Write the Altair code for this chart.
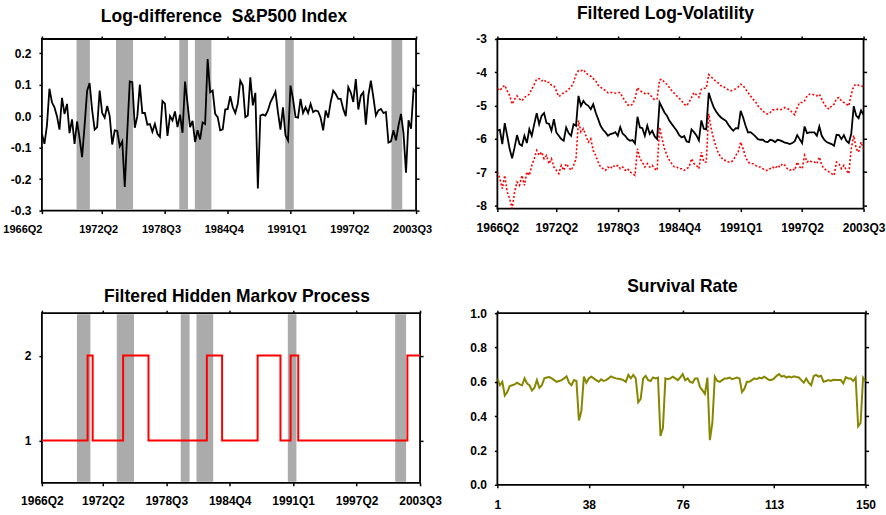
import altair as alt
import pandas as pd

# ---------------- data ----------------
quarters = list(range(1, 151))
date_ticks = [1, 25, 50, 75, 100, 125, 150]
date_labels = ["1966Q2", "1972Q2", "1978Q3", "1984Q4", "1991Q1", "1997Q2", "2003Q3"]
index_ticks = [1, 38, 76, 113, 150]

sp500_logdiff = [
    -0.056, -0.088, -0.030, 0.087, 0.044, 0.028, 0.000, -0.043, 0.058, 0.007,
    0.039, -0.054, -0.010, -0.088, -0.017, -0.070, -0.130, -0.030, 0.081, 0.105,
    0.020, -0.043, -0.035, 0.081, 0.010, -0.005, 0.032, 0.000, -0.090, -0.045,
    -0.047, -0.096, -0.080, -0.225, -0.050, 0.110, 0.108, -0.037, 0.000, 0.100,
    0.010, 0.010, -0.027, -0.025, -0.050, -0.025, -0.056, -0.066, 0.048, 0.040,
    -0.063, 0.000, -0.014, 0.015, -0.035, 0.005, -0.053, 0.110, 0.040, -0.035,
    -0.015, -0.082, -0.045, -0.074, -0.020, -0.025, 0.181, 0.076, 0.081, 0.007,
    -0.003, -0.045, -0.042, 0.021, 0.023, 0.063, 0.028, 0.010, 0.039, 0.113,
    0.097, -0.003, 0.002, 0.123, 0.034, 0.074, -0.230, 0.002, 0.005, 0.002,
    0.018, 0.044, 0.060, 0.078, 0.013, -0.043, 0.028, -0.061, -0.077, 0.097,
    0.055, -0.003, -0.005, 0.055, 0.010, 0.028, 0.010, 0.039, 0.013, 0.018,
    0.015, -0.005, -0.045, 0.018, -0.005, 0.045, 0.081, 0.070, 0.055, 0.055,
    0.023, 0.000, 0.092, 0.075, 0.045, 0.118, 0.021, 0.065, 0.076, -0.027,
    0.065, 0.113, 0.060, 0.002, 0.018, 0.023, 0.010, 0.013, -0.084, -0.080,
    -0.045, -0.077, -0.030, 0.007, -0.055, -0.180, -0.013, -0.040, 0.085, 0.075,
]

logvol_filtered = [
    -5.76, -5.73, -6.16, -5.53, -5.91, -6.31, -6.59, -6.26, -5.89, -6.16,
    -6.21, -5.91, -6.13, -5.71, -5.91, -5.56, -5.23, -5.56, -5.31, -5.23,
    -5.53, -5.55, -5.76, -5.41, -5.81, -5.91, -6.01, -6.06, -5.66, -5.83,
    -5.91, -5.56, -5.61, -4.71, -5.01, -4.86, -4.96, -5.01, -5.11, -4.96,
    -5.21, -5.41, -5.61, -5.73, -5.81, -5.91, -5.86, -5.84, -5.80, -5.91,
    -5.65, -5.85, -5.91, -6.01, -6.06, -6.04, -6.14, -5.34, -5.66, -5.68,
    -5.91, -5.61, -5.86, -5.76, -5.93, -6.01, -4.91, -5.06, -5.21, -5.31,
    -5.46, -5.56, -5.66, -5.76, -5.89, -5.96, -5.92, -6.08, -6.10, -5.72,
    -5.80, -5.90, -6.05, -5.45, -5.70, -5.72, -4.62, -4.85, -5.05, -5.18,
    -5.28, -5.36, -5.41, -5.46, -5.58, -5.68, -5.76, -5.68, -5.69, -5.16,
    -5.36, -5.61, -5.81, -5.80, -5.86, -5.93, -6.01, -6.03, -6.03, -6.09,
    -6.10, -6.03, -6.05, -6.10, -6.03, -6.05, -6.08, -6.12, -6.13, -6.16,
    -6.13, -6.07, -5.89, -6.01, -6.13, -5.63, -5.83, -5.81, -5.81, -5.81,
    -5.91, -5.63, -5.91, -6.03, -6.10, -6.13, -6.16, -6.21, -5.88, -5.89,
    -6.01, -5.89, -6.06, -6.13, -5.85, -5.02, -5.30, -5.38, -5.15, -5.28,
]

logvol_upper = [
    -4.49, -4.55, -4.46, -4.39, -4.56, -4.70, -4.96, -4.81, -4.71, -4.80,
    -4.86, -4.76, -4.71, -4.66, -4.51, -4.36, -4.21, -4.19, -4.26, -4.22,
    -4.31, -4.30, -4.39, -4.41, -4.56, -4.73, -4.68, -4.61, -4.58, -4.51,
    -4.45, -4.31, -4.07, -3.95, -3.96, -3.92, -4.02, -4.08, -4.12, -4.19,
    -4.26, -4.39, -4.45, -4.51, -4.55, -4.62, -4.60, -4.62, -4.63, -4.62,
    -4.61, -4.76, -4.86, -4.98, -5.01, -4.96, -4.80, -4.46, -4.55, -4.60,
    -4.64, -4.62, -4.66, -4.76, -4.83, -4.80, -4.23, -4.21, -4.31, -4.36,
    -4.46, -4.56, -4.63, -4.71, -4.78, -4.86, -4.96, -5.01, -4.90, -4.76,
    -4.61, -4.68, -4.75, -4.51, -4.48, -4.48, -4.07, -4.14, -4.21, -4.28,
    -4.33, -4.41, -4.43, -4.49, -4.53, -4.56, -4.53, -4.50, -4.44, -4.36,
    -4.40, -4.51, -4.61, -4.71, -4.81, -4.88, -5.01, -5.08, -5.16, -5.23,
    -5.26, -5.21, -5.13, -5.13, -5.11, -5.13, -5.11, -5.06, -5.09, -5.13,
    -5.21, -5.28, -5.06, -4.91, -4.91, -4.86, -4.71, -4.66, -4.66, -4.69,
    -4.71, -4.66, -4.81, -4.96, -5.06, -5.11, -5.01, -4.96, -4.79, -4.76,
    -4.86, -4.91, -4.96, -5.01, -4.66, -4.41, -4.36, -4.39, -4.41, -4.43,
]

logvol_lower = [
    -7.00, -7.20, -7.50, -7.10, -7.60, -7.80, -8.10, -7.60, -7.30, -7.40,
    -7.10, -7.40, -7.00, -7.10, -6.80, -6.60, -6.35, -6.50, -6.40, -6.60,
    -6.50, -6.75, -6.60, -6.85, -6.95, -7.05, -6.80, -6.95, -6.75, -6.85,
    -6.95, -6.80, -6.60, -5.45, -5.80, -5.70, -5.90, -6.10, -6.00, -6.35,
    -6.50, -6.70, -6.85, -6.90, -6.95, -6.85, -6.90, -6.80, -6.85, -6.80,
    -6.90, -6.85, -6.95, -6.90, -7.00, -7.05, -7.10, -6.30, -6.60, -6.70,
    -6.85, -6.75, -6.85, -6.80, -6.90, -6.95, -5.65, -6.00, -6.30, -6.50,
    -6.65, -6.75, -6.85, -6.85, -6.90, -6.90, -6.95, -6.90, -6.85, -6.60,
    -6.75, -6.80, -6.90, -6.40, -6.70, -6.70, -5.25, -5.70, -6.00, -6.25,
    -6.45, -6.55, -6.65, -6.65, -6.70, -6.70, -6.65, -6.50, -6.40, -6.10,
    -6.30, -6.55, -6.70, -6.75, -6.75, -6.80, -6.85, -6.85, -6.90, -6.95,
    -6.95, -6.90, -6.85, -6.90, -6.80, -6.85, -6.75, -6.80, -6.90, -6.95,
    -6.90, -6.95, -6.70, -6.85, -6.90, -6.50, -6.70, -6.65, -6.70, -6.70,
    -6.75, -6.55, -6.80, -6.90, -6.95, -7.00, -7.05, -7.10, -6.70, -6.75,
    -6.90, -6.80, -6.95, -7.05, -6.30, -5.90, -6.30, -6.40, -6.10, -6.30,
]

hidden_state = [
    1, 1, 1, 1, 1, 1, 1, 1, 1, 1,
    1, 1, 1, 1, 1, 1, 1, 1, 2, 2,
    1, 1, 1, 1, 1, 1, 1, 1, 1, 1,
    1, 1, 2, 2, 2, 2, 2, 2, 2, 2,
    2, 2, 1, 1, 1, 1, 1, 1, 1, 1,
    1, 1, 1, 1, 1, 1, 1, 1, 1, 1,
    1, 1, 1, 1, 1, 2, 2, 2, 2, 2,
    2, 1, 1, 1, 1, 1, 1, 1, 1, 1,
    1, 1, 1, 1, 1, 2, 2, 2, 2, 2,
    2, 2, 2, 2, 1, 1, 1, 1, 2, 2,
    2, 1, 1, 1, 1, 1, 1, 1, 1, 1,
    1, 1, 1, 1, 1, 1, 1, 1, 1, 1,
    1, 1, 1, 1, 1, 1, 1, 1, 1, 1,
    1, 1, 1, 1, 1, 1, 1, 1, 1, 1,
    1, 1, 1, 1, 2, 2, 2, 2, 2, 2,
]

survival_rate = [
    0.620, 0.580, 0.600, 0.520, 0.540, 0.575, 0.580, 0.585, 0.595, 0.585,
    0.580, 0.620, 0.590, 0.580, 0.550, 0.565, 0.610, 0.565, 0.580, 0.620,
    0.625, 0.628, 0.620, 0.610, 0.600, 0.605, 0.610, 0.620, 0.632, 0.595,
    0.580, 0.610, 0.605, 0.375, 0.430, 0.630, 0.595, 0.620, 0.630, 0.620,
    0.610, 0.600, 0.615, 0.605, 0.610, 0.620, 0.632, 0.625, 0.620, 0.618,
    0.615, 0.610, 0.600, 0.640, 0.620, 0.640, 0.620, 0.480, 0.500, 0.620,
    0.635, 0.610, 0.605, 0.625, 0.620, 0.625, 0.285, 0.330, 0.620, 0.615,
    0.620, 0.630, 0.620, 0.610, 0.625, 0.645, 0.610, 0.620, 0.600, 0.595,
    0.620, 0.620, 0.570, 0.550, 0.530, 0.625, 0.260, 0.360, 0.630, 0.605,
    0.600, 0.610, 0.620, 0.620, 0.625, 0.615, 0.620, 0.625, 0.620, 0.540,
    0.560, 0.600, 0.600, 0.610, 0.620, 0.615, 0.625, 0.620, 0.630, 0.620,
    0.610, 0.610, 0.620, 0.635, 0.645, 0.630, 0.635, 0.625, 0.630, 0.625,
    0.632, 0.628, 0.625, 0.610, 0.595, 0.620, 0.595, 0.580, 0.633, 0.640,
    0.630, 0.635, 0.600, 0.605, 0.610, 0.605, 0.612, 0.610, 0.610, 0.610,
    0.590, 0.627, 0.620, 0.620, 0.605, 0.625, 0.340, 0.360, 0.625, 0.605,
]

recession_start = [14.8, 30.5, 55.7, 61.9, 97.9, 140.2]
recession_end = [20.1, 37.3, 59.2, 68.5, 101.3, 144.5]

# ---------------- styling helpers ----------------
FONT = "Liberation Sans"


def date_label_expr():
    expr = "''"
    for pos, lab in reversed(list(zip(date_ticks, date_labels))):
        expr = f"datum.value == {pos} ? '{lab}' : ({expr})"
    return expr


def num_label_expr(fmt):
    return (f"datum.value < 0 ? '-' + format(-datum.value, '{fmt}') "
            f": format(datum.value, '{fmt}')")


def axis(orient, values, show_labels=True, **kw):
    base = dict(orient=orient, values=values, domain=False, grid=False,
                ticks=True, tickSize=3, tickWidth=1.5, tickColor="black",
                labels=show_labels, labelFont=FONT, labelFontSize=12,
                labelFontWeight="bold", labelColor="black",
                labelFlush=False, labelOverlap=False, labelBound=False,
                title=None)
    base.update(kw)
    return alt.Axis(**base)


def title(text, offset, dx):
    return alt.TitleParams(text=text, font=FONT, fontSize=17.5, fontWeight="bold",
                           color="black", anchor="middle", offset=offset, dx=dx)


date_scale = alt.Scale(domain=[1, 150], nice=False, zero=False)
date_x_axis = dict(labelExpr=date_label_expr())

rec_df = pd.DataFrame({"s": recession_start, "e": recession_end})

# ---------------- panel 1 ----------------
W1, H1 = 375, 172
df1 = pd.DataFrame({"q": quarters, "v": sp500_logdiff})
y1_scale = alt.Scale(domain=[-0.3, 0.245], nice=False, zero=False)
y1_ticks = [-0.3, -0.2, -0.1, 0.0, 0.1, 0.2]

p1_bands = alt.Chart(rec_df).mark_rect(color="#ababab").encode(
    x=alt.X("s:Q", scale=date_scale,
            axis=axis("bottom", date_ticks, labelPadding=10, labelFontSize=11,
                      labelAlign={"condition": {"test": "datum.value == 1", "value": "right"},
                                  "value": "center"},
                      labelOffset={"condition": {"test": "datum.value == 1", "value": 0},
                                   "value": -4},
                      **date_x_axis)),
    x2="e:Q",
    y=alt.value(1), y2=alt.value(H1 - 1),
)
p1_line = alt.Chart(df1).mark_line(color="black", strokeWidth=1.8, clip=True).encode(
    x=alt.X("q:Q", scale=date_scale, axis=None),
    y=alt.Y("v:Q", scale=y1_scale,
            axis=axis("left", y1_ticks, labelPadding=8, labelExpr=num_label_expr(".1f"))),
)
p1_mirror = alt.Chart(df1).mark_line(opacity=0).encode(
    x=alt.X("q:Q", scale=date_scale, axis=axis("top", date_ticks, show_labels=False)),
    y=alt.Y("v:Q", scale=y1_scale, axis=axis("right", y1_ticks, show_labels=False)),
)
p1 = alt.layer(p1_bands, p1_line, p1_mirror).resolve_axis(
    x="independent", y="independent"
).properties(width=W1, height=H1,
             title=title("Log-difference\u00a0 S&P500 Index", 9.5, -5))

# ---------------- panel 2 ----------------
W2, H2 = 367, 170
df2 = pd.DataFrame({"q": quarters, "mid": logvol_filtered,
                    "up": logvol_upper, "lo": logvol_lower})
y2_scale = alt.Scale(domain=[-8.1, -3], nice=False, zero=False)
y2_ticks = [-8, -7, -6, -5, -4, -3]

p2_lo = alt.Chart(df2).mark_line(color="#ff0000", strokeWidth=1.6,
                                 strokeDash=[2, 2], clip=True).encode(
    x=alt.X("q:Q", scale=date_scale,
            axis=axis("bottom", date_ticks, labelPadding=11, **date_x_axis)),
    y=alt.Y("lo:Q", scale=y2_scale,
            axis=axis("left", y2_ticks, labelPadding=8, labelExpr=num_label_expr("d"))),
)
p2_up = alt.Chart(df2).mark_line(color="#ff0000", strokeWidth=1.6,
                                 strokeDash=[2, 2], clip=True).encode(
    x=alt.X("q:Q", scale=date_scale, axis=None),
    y=alt.Y("up:Q", scale=y2_scale, axis=None),
)
p2_mid = alt.Chart(df2).mark_line(color="black", strokeWidth=1.8, clip=True).encode(
    x=alt.X("q:Q", scale=date_scale, axis=None),
    y=alt.Y("mid:Q", scale=y2_scale, axis=None),
)
p2_mirror = alt.Chart(df2).mark_line(opacity=0).encode(
    x=alt.X("q:Q", scale=date_scale, axis=axis("top", date_ticks, show_labels=False)),
    y=alt.Y("mid:Q", scale=y2_scale, axis=axis("right", y2_ticks, show_labels=False)),
)
p2 = alt.layer(p2_lo, p2_up, p2_mid, p2_mirror).resolve_axis(
    x="independent", y="independent"
).properties(width=W2, height=H2, title=title("Filtered Log-Volatility", 10.5, -15))

# ---------------- panel 3 ----------------
W3, H3 = 379, 170
df3 = pd.DataFrame({"q": quarters, "s": hidden_state})
y3_scale = alt.Scale(domain=[0.5, 2.5], nice=False, zero=False)
y3_ticks = [1, 2]

p3_bands = alt.Chart(rec_df).mark_rect(color="#ababab").encode(
    x=alt.X("s:Q", scale=date_scale,
            axis=axis("bottom", date_ticks, labelPadding=10, **date_x_axis)),
    x2="e:Q",
    y=alt.value(1), y2=alt.value(H3 - 1),
)
p3_line = alt.Chart(df3).mark_line(color="#ff0000", strokeWidth=2,
                                   interpolate="step-after", clip=True).encode(
    x=alt.X("q:Q", scale=date_scale, axis=None),
    y=alt.Y("s:Q", scale=y3_scale,
            axis=axis("left", y3_ticks, labelPadding=8, format="d")),
)
p3_mirror = alt.Chart(df3).mark_line(opacity=0).encode(
    x=alt.X("q:Q", scale=date_scale, axis=axis("top", date_ticks, show_labels=False)),
    y=alt.Y("s:Q", scale=y3_scale, axis=axis("right", y3_ticks, show_labels=False)),
)
p3 = alt.layer(p3_bands, p3_line, p3_mirror).resolve_axis(
    x="independent", y="independent"
).properties(width=W3, height=H3,
             title=title("Filtered Hidden Markov Process", 4, 6))

# ---------------- panel 4 ----------------
W4, H4 = 369, 172
df4 = pd.DataFrame({"q": quarters, "r": survival_rate})
y4_scale = alt.Scale(domain=[0, 1], nice=False, zero=False)
y4_ticks = [0.0, 0.2, 0.4, 0.6, 0.8, 1.0]

p4_line = alt.Chart(df4).mark_line(color="#868600", strokeWidth=2, clip=True).encode(
    x=alt.X("q:Q", scale=date_scale,
            axis=axis("bottom", index_ticks, labelPadding=12, format="d")),
    y=alt.Y("r:Q", scale=y4_scale,
            axis=axis("left", y4_ticks, labelPadding=8, format=".1f")),
)
p4_mirror = alt.Chart(df4).mark_line(opacity=0).encode(
    x=alt.X("q:Q", scale=date_scale, axis=axis("top", index_ticks, show_labels=False)),
    y=alt.Y("r:Q", scale=y4_scale, axis=axis("right", y4_ticks, show_labels=False)),
)
p4 = alt.layer(p4_line, p4_mirror).resolve_axis(
    x="independent", y="independent"
).properties(width=W4, height=H4, title=title("Survival Rate", 12, 1))

# ---------------- assemble ----------------
chart = alt.concat(
    p1, p2, p3, p4, columns=2,
    spacing={"row": 102.8, "column": 77.5},
).properties(
    bounds="flush",
    padding={"left": 1, "top": 3.5, "right": 0, "bottom": 0},
    background="white",
).configure_view(
    stroke="black", strokeWidth=1.8
)

chart.save("out.html", embed_options={"renderer": "svg", "actions": False})
